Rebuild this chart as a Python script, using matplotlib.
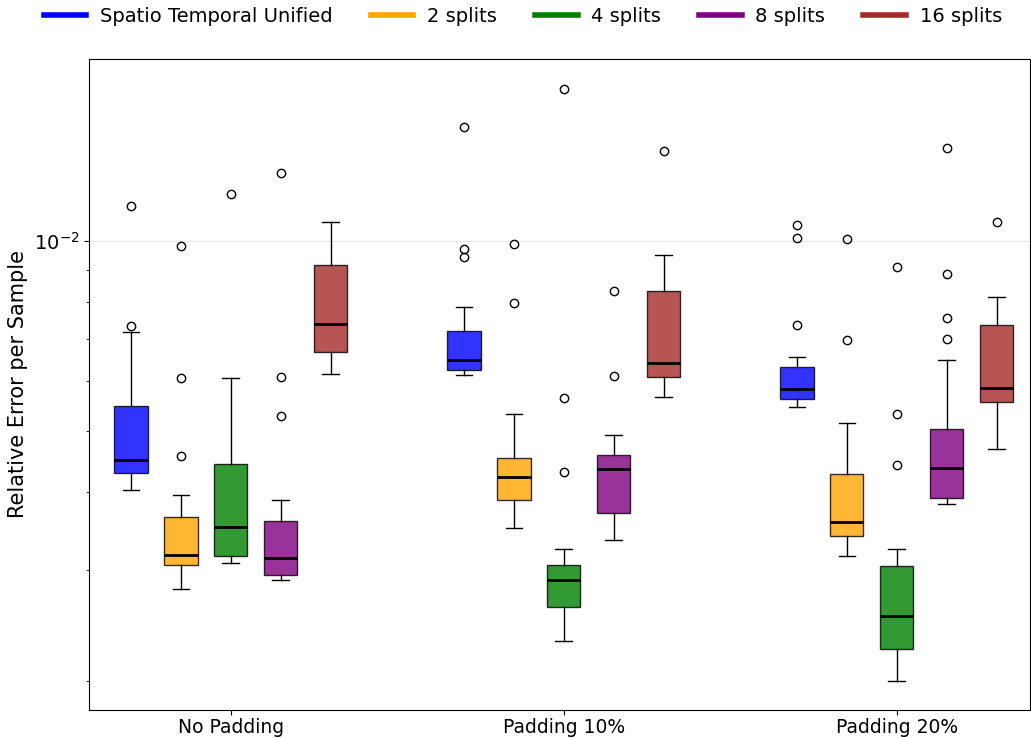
import numpy as np
import matplotlib
matplotlib.use('Agg')
import matplotlib.pyplot as plt
from matplotlib.lines import Line2D

groups = ['No Padding', 'Padding 10%', 'Padding 20%']
methods = ['Spatio Temporal Unified', '2 splits', '4 splits', '8 splits', '16 splits']
colors = ['blue', 'orange', 'green', 'purple', 'brown']

# one row per method, one column per padding setting
medians = [
    [0.004493, 0.006462, 0.005810],
    [0.003175, 0.004216, 0.003584],
    [0.003509, 0.002892, 0.002533],
    [0.003137, 0.004346, 0.004353],
    [0.007381, 0.006408, 0.005850],
]
q1 = [
    [0.004280, 0.006229, 0.005612],
    [0.003061, 0.003871, 0.003404],
    [0.003160, 0.002622, 0.002246],
    [0.002944, 0.003702, 0.003911],
    [0.006671, 0.006072, 0.005557],
]
q3 = [
    [0.005474, 0.007194, 0.006313],
    [0.003640, 0.004516, 0.004258],
    [0.004428, 0.003055, 0.003047],
    [0.003595, 0.004579, 0.005024],
    [0.009160, 0.008322, 0.007362],
]
whis_lo = [
    [0.004022, 0.006125, 0.005441],
    [0.002804, 0.003504, 0.003161],
    [0.003080, 0.002318, 0.002000],
    [0.002897, 0.003351, 0.003823],
    [0.006146, 0.005656, 0.004665],
]
whis_hi = [
    [0.007177, 0.007848, 0.006536],
    [0.003945, 0.005303, 0.005137],
    [0.006050, 0.003241, 0.003237],
    [0.003882, 0.004923, 0.006471],
    [0.010710, 0.009494, 0.008153],
]
outliers = [
    [[0.01138, 0.007334], [0.01515, 0.009722, 0.009442], [0.01061, 0.01013, 0.007362]],
    [[0.009829, 0.006050, 0.004559], [0.009902, 0.007985], [0.01006, 0.006952]],
    [[0.01186], [0.01746, 0.005641, 0.004299], [0.009083, 0.005321, 0.004404]],
    [[0.01281, 0.006085, 0.005272], [0.008322, 0.006109], [0.01407, 0.008879, 0.007560, 0.007001]],
    [[], [0.01389], [0.01074]],
]

fig = plt.figure(figsize=(10.31, 7.38), dpi=100)
ax = fig.add_axes([0.0863, 0.038, 0.9127, 0.882])

offset = 0.15
for i, (name, col) in enumerate(zip(methods, colors)):
    stats = []
    for g in range(len(groups)):
        stats.append(dict(med=medians[i][g], q1=q1[i][g], q3=q3[i][g],
                          whislo=whis_lo[i][g], whishi=whis_hi[i][g],
                          fliers=outliers[i][g]))
    pos = np.arange(len(groups)) + (i - 2) * offset
    ax.bxp(stats, positions=pos, widths=0.1, patch_artist=True,
           boxprops=dict(facecolor=col, alpha=0.8),
           medianprops=dict(color='black', linewidth=2),
           flierprops=dict(marker='o', markerfacecolor='none', markersize=6),
           manage_ticks=False)

ax.set_yscale('log')
ax.set_ylim(0.001799, 0.01946)
ax.set_xlim(-0.426, 2.4)
ax.set_xticks(np.arange(len(groups)))
ax.set_xticklabels(groups, fontsize=13.5)
ax.tick_params(axis='x', pad=2)
ax.tick_params(axis='y', labelsize=14)
ax.yaxis.grid(True, which='major', color='#e5e5e5')
ax.set_axisbelow(True)
ax.set_ylabel('Relative Error per Sample', fontsize=15)

handles = [Line2D([0], [0], color=c, lw=4) for c in colors]
fig.legend(handles, methods, loc='upper center', bbox_to_anchor=(0.507, 1.014),
           ncol=5, frameon=False, fontsize=14, handlelength=2.2,
           handletextpad=0.7, columnspacing=1.95)

fig.savefig('out.png', dpi=100)
